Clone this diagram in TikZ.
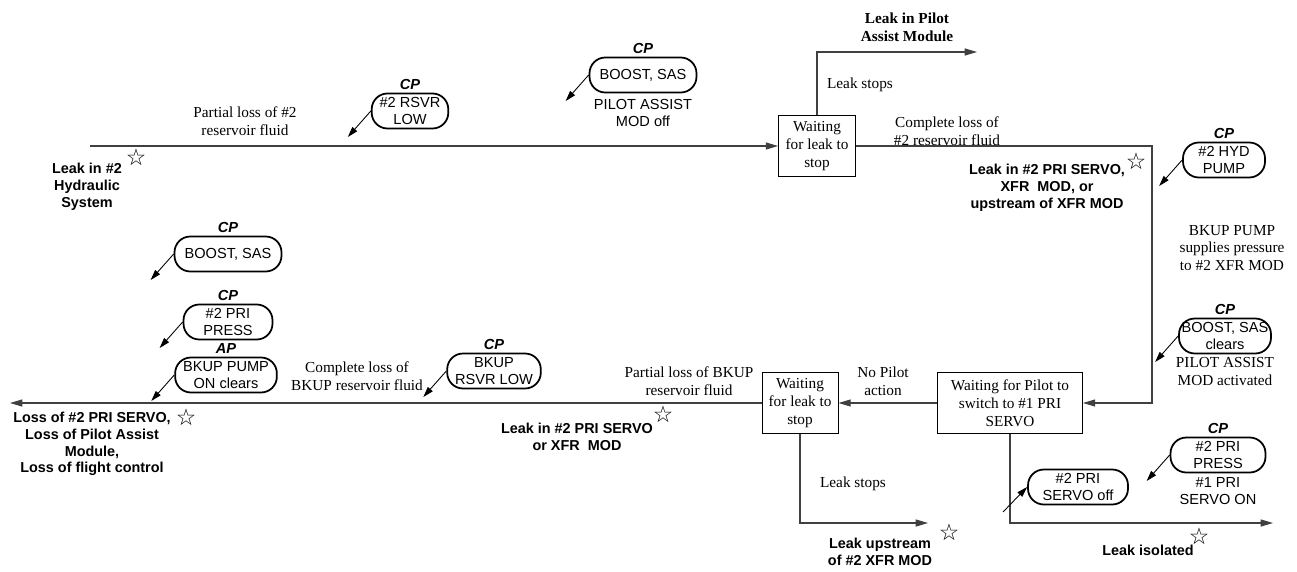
\documentclass[tikz,border=0pt]{standalone}
\usepackage{fontspec}
\setmainfont{Liberation Serif}
\setsansfont{Liberation Sans}
\newfontfamily\symfont{DejaVu Sans}
\usetikzlibrary{positioning,arrows.meta}

\begin{document}
\begin{tikzpicture}[x=0.02cm,y=-0.02cm,
  every node/.style={inner sep=0pt, align=center},
  lbl/.style={font=\fontsize{8.7}{10.2}\selectfont},
  outcome/.style={font=\fontsize{8.2}{9.6}\selectfont\sffamily\bfseries},
  note/.style={font=\fontsize{8.3}{9.6}\selectfont\sffamily},
  panel/.style={font=\fontsize{8.3}{9.6}\selectfont\sffamily\bfseries\itshape},
  waitbox/.style={draw, line width=0.5pt, lbl, minimum height=1.22cm},
  alarm/.style={draw, line width=1pt, rounded corners=9pt, note, inner xsep=4.5pt, inner ysep=1pt, minimum height=0.7cm},
  flow/.style={draw=black!75, line width=0.6pt, -{Triangle[length=7pt,width=4pt]}},
  cue/.style={draw=black, line width=0.5pt, -{Triangle[length=6pt,width=3.6pt]}},
  starmark/.style={font=\symfont\fontsize{13}{13}\selectfont}]
  \useasboundingbox (0,0) rectangle (1297,571);

  % states
  \node[waitbox, minimum width=1.54cm] (wait1) at (817,146) {Waiting\\for leak to\\stop};
  \node[waitbox, minimum width=2.9cm] (pilotwait) at (1010,403) {Waiting for Pilot to\\switch to \#1 PRI\\SERVO};
  \node[waitbox, minimum width=1.52cm] (wait2) at (800,403) {Waiting\\for leak to\\stop};

  % free ends and corners
  \coordinate (start) at (90,146);
  \coordinate (pamend) at (977,52);
  \coordinate (turn) at (1152,146);
  \coordinate (lossend) at (10,403);
  \coordinate (upend) at (928,523);
  \coordinate (isoend) at (1273,523);
  \coordinate (offtail) at (1003,512);

  % transitions
  \draw[flow] (start) -- (wait1.west);
  \draw[flow] (wait1.north) |- (pamend);
  \draw[flow] (wait1.east) -- (turn) |- (pilotwait.east);
  \draw[flow] (pilotwait.west) -- (wait2.east);
  \draw[flow] (wait2.west) -- (lossend);
  \draw[flow] (wait2.south) |- (upend);
  \draw[flow] (pilotwait.south) |- (isoend);

  % transition labels
  \node[lbl] (partial2) at (245,121) {Partial loss of \#2\\reservoir fluid};
  \node[lbl] (stops1) at (860,85) {Leak stops};
  \node[lbl] (complete2) at (947,131) {Complete loss of\\\#2 reservoir fluid};
  \node[lbl] (bkupsupply) at (1232,248) {BKUP PUMP\\supplies pressure\\to \#2 XFR MOD};
  \node[lbl] (nopilot) at (883,381) {No Pilot\\action};
  \node[lbl] (partialbk) at (689,381) {Partial loss of BKUP\\reservoir fluid};
  \node[lbl] (completebk) at (357,376) {Complete loss of\\BKUP reservoir fluid};
  \node[lbl] (stops2) at (853,484) {Leak stops};

  % outcomes
  \node[outcome] (hyd) at (87,187) {Leak in \#2\\Hydraulic\\System};
  \node[lbl, font=\fontsize{8.7}{10.2}\selectfont\bfseries] (pam) at (907,27) {Leak in Pilot\\Assist Module};
  \node[outcome] (servoleak) at (1047,188) {Leak in \#2 PRI SERVO,\\XFR~~MOD, or\\upstream of XFR MOD};
  \node[outcome] (bkleak) at (577,437) {Leak in \#2 PRI SERVO\\or XFR~~MOD};
  \node[outcome] (lossall) at (92,444) {Loss of \#2 PRI SERVO,\\Loss of Pilot Assist\\Module,\\Loss of flight control};
  \node[outcome] (upstream) at (880,552) {Leak upstream\\of \#2 XFR MOD};
  \node[outcome] (isolated) at (1148,550) {Leak isolated};

  \foreach \i/\x/\y in {1/136/157, 2/1136/161, 3/663/414, 4/186/417, 5/949/532, 6/1199/536}
    \node[starmark] (star\i) at (\x,\y) {☆};

  % cautions and advisories
  \node[alarm] (rsvrT) at (410,111) {\#2 RSVR\\LOW};
  \node[alarm, minimum width=2.14cm] (boostT) at (643,75) {BOOST, SAS};
  \node[alarm, minimum width=1.64cm] (hydR) at (1224,160) {\#2 HYD\\PUMP};
  \node[alarm, inner xsep=1.5pt] (clearR) at (1225,336) {BOOST, SAS\\clears};
  \node[alarm, minimum width=1.9cm] (pressR) at (1218,455) {\#2 PRI\\PRESS};
  \node[alarm, minimum width=2cm] (servooff) at (1078,487) {\#2 PRI\\SERVO off};
  \node[alarm] (bkrsvr) at (494,371) {BKUP\\RSVR LOW};
  \node[alarm] (pumpL) at (226,375) {BKUP PUMP\\ON clears};
  \node[alarm, minimum width=1.78cm] (pressL) at (228,322) {\#2 PRI\\PRESS};
  \node[alarm, minimum width=2.14cm] (boostL) at (228,254) {BOOST, SAS};

  \foreach \n/\pnl in {rsvrT/CP, boostT/CP, hydR/CP, clearR/CP, pressR/CP, bkrsvr/CP, pumpL/AP, pressL/CP, boostL/CP}{
    \node[panel, above=1.5pt of \n] (\n-pnl) {\pnl};
    \draw[cue] (\n.west) -- ++(-23,26);
  }
  \draw[cue] (offtail) -- (servooff.west);

  \node[note, below=3pt of boostT] (boostT-note) {PILOT ASSIST\\MOD off};
  \node[lbl, below=1.5pt of clearR] (clearR-note) {PILOT ASSIST\\MOD activated};
  \node[note, below=2pt of pressR] (pressR-note) {\#1 PRI\\SERVO ON};
\end{tikzpicture}
\end{document}
